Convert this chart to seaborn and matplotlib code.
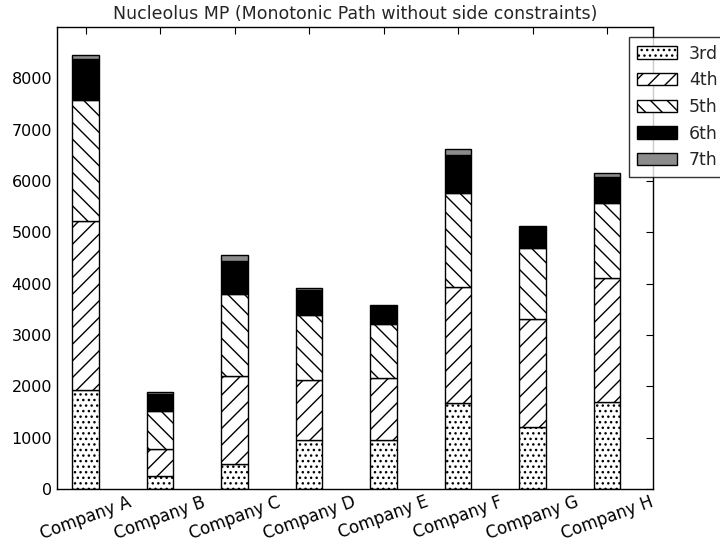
import matplotlib
matplotlib.use("Agg")
import matplotlib.pyplot as plt
import seaborn as sns
import numpy as np

companies = ["Company A", "Company B", "Company C", "Company D",
             "Company E", "Company F", "Company G", "Company H"]
tier_labels = ["3rd", "4th", "5th", "6th", "7th"]
third = [1920, 260, 490, 960, 950, 1680, 1200, 1690]
fourth = [3310, 510, 1710, 1160, 1210, 2260, 2110, 2430]
fifth = [2350, 745, 1590, 1260, 1050, 1820, 1380, 1450]
sixth = [800, 345, 660, 500, 360, 750, 420, 500]
seventh = [66, 20, 117, 30, 20, 110, 20, 85]

series = [third, fourth, fifth, sixth, seventh]
fills = ["white", "white", "white", "black", "#8c8c8c"]
hatches = ["...", "//", "\\\\", None, None]

sns.set_style("white")
plt.rcParams["font.family"] = ["DejaVu Sans"]
plt.rcParams["hatch.linewidth"] = 1.0

fig = plt.figure(figsize=(7.2, 5.44), dpi=100)
ax = fig.add_axes([57 / 720, 55 / 544, 596 / 720, 462 / 544])

bottom = np.zeros(len(companies))
for vals, fc, hatch, lab in zip(series, fills, hatches, tier_labels):
    sns.barplot(x=companies, y=vals, bottom=bottom, color=fc, hatch=hatch,
                edgecolor="black", linewidth=1.0, width=0.35,
                label=lab, ax=ax, saturation=1)
    bottom = bottom + np.array(vals)

ax.set_xlim(-0.383, 7.617)
ax.set_ylim(0, 9000)
ax.set_yticks(np.arange(0, 9000, 1000))
ax.set_title("Nucleolus MP (Monotonic Path without side constraints)",
             fontsize=12.5, pad=6)
ax.set_xlabel("")
ax.set_ylabel("")
for s in ax.spines.values():
    s.set_visible(True)
    s.set_color("black")
    s.set_linewidth(1.0)
ax.tick_params(direction="in", length=5, width=0.8, top=True, right=True,
               labelsize=11.5, colors="black")
ax.tick_params(axis="x", pad=3, labelsize=12)
plt.setp(ax.get_xticklabels(), rotation=20, ha="center")

leg = ax.legend(loc="upper left", bbox_to_anchor=(0.96, 0.979),
                borderaxespad=0, fontsize=12.5, frameon=True, fancybox=False,
                edgecolor="black", handlelength=2.3, labelspacing=0.5,
                borderpad=0.45, handletextpad=0.7)
leg.get_frame().set_linewidth(1.0)

fig.savefig("out.png", dpi=100)
